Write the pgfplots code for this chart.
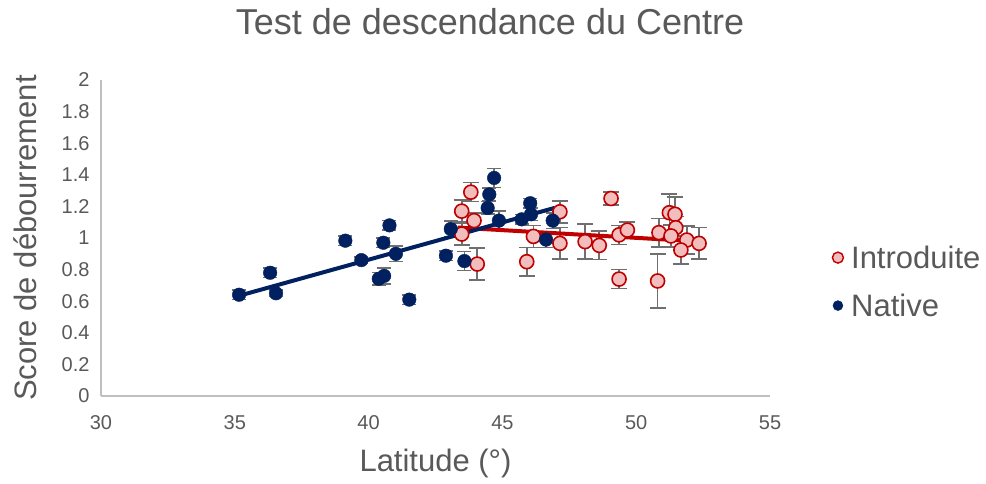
\documentclass[border=0pt]{standalone}
\usepackage{fontspec}
\setmainfont{Liberation Sans}
\usepackage{pgfplots}
\usepackage{pgfplotstable}
\pgfplotsset{compat=1.18}
\definecolor{txt}{HTML}{595959}
\definecolor{axgray}{HTML}{BFBFBF}
\definecolor{nblue}{HTML}{002060}
\definecolor{ired}{HTML}{C00000}
\definecolor{ifill}{HTML}{F2BDBD}
\definecolor{errg}{HTML}{6F6F6F}
\pgfplotstableread{
x y e
35.16 0.641 0.03
36.32 0.78 0.03
36.54 0.65 0.02
39.13 0.983 0.03
39.73 0.86 0.02
40.38 0.742 0.04
40.58 0.76 0.05
40.55 0.97 0.03
40.78 1.08 0.03
41.02 0.90 0.05
41.52 0.61 0.03
42.89 0.888 0.03
43.07 1.057 0.05
43.58 0.854 0.06
44.45 1.19 0.04
44.51 1.276 0.04
44.69 1.38 0.06
44.87 1.11 0.06
45.72 1.118 0.03
46.04 1.22 0.03
46.07 1.15 0.04
46.63 0.99 0.05
46.88 1.11 0.05
}\native
\pgfplotstableread{
x y e
43.82 1.29 0.06
43.48 1.17 0.07
43.94 1.11 0.05
43.48 1.025 0.07
44.06 0.835 0.10
45.91 0.85 0.09
46.16 1.01 0.07
47.15 1.166 0.07
47.15 0.966 0.10
48.09 0.977 0.11
48.62 0.953 0.09
49.06 1.25 0.04
49.36 1.02 0.06
49.67 1.05 0.05
49.36 0.74 0.06
50.80 0.728 0.17
50.85 1.034 0.09
51.24 1.16 0.12
51.45 1.15 0.11
51.48 1.065 0.07
51.30 1.013 0.07
51.89 0.987 0.09
51.67 0.924 0.09
52.35 0.966 0.10
}\intro
\begin{document}
\begin{tikzpicture}[x=1pt,y=1pt]
\useasboundingbox (-101,-88) rectangle (885,396);
\begin{axis}[
  at={(0,0)}, anchor=south west,
  scale only axis, width=669pt, height=316pt,
  xmin=30, xmax=55, ymin=0, ymax=2,
  xtick={30,35,...,55}, ytick={0,0.2,...,2.01},
  /pgf/number format/fixed, /pgf/number format/precision=1,
  /pgf/number format/assume math mode=true,
  axis x line*=bottom, axis y line*=left,
  axis line style={axgray, line width=1.5pt},
  major tick length=0pt,
  tick label style={font=\fontsize{20}{22}\selectfont, text=txt},
  yticklabel style={xshift=-8pt},
  xticklabel style={yshift=-16pt},
  xlabel={Latitude (°)}, ylabel={Score de débourrement},
  label style={font=\fontsize{31}{34}\selectfont, text=txt},
  xlabel style={at={(axis description cs:0.5,-0.215)}, anchor=center},
  ylabel style={at={(axis description cs:-0.1136,0.5)}, anchor=center, rotate=0},
  title={Test de descendance du Centre},
  title style={at={(axis description cs:0.5815,1.1646)}, anchor=center, font=\fontsize{36}{40}\selectfont, text=txt},
  clip=false,
  legend style={draw=none, fill=none, at={(axis description cs:1.0875,0.362)}, anchor=west,
    font=\fontsize{31}{34}\selectfont, text=txt, row sep=20pt,
    cells={anchor=west}},
  legend cell align=left,
]
\addplot[only marks, mark=*, mark size=7pt, mark options={draw=ired, fill=ifill, line width=1.6pt},
  legend image code/.code={\draw[draw=ired, fill=ifill, line width=1.4pt] (0pt,0pt) circle (5.5pt);},
  error bars/.cd, y dir=both, y explicit,
  error bar style={errg, line width=1.6pt},
  error mark options={rotate=90, mark size=8pt, errg, line width=1.6pt}]
  table[x=x, y=y, y error=e] {\intro};
\addlegendentry{\hspace{5pt}Introduite}
\addplot[only marks, mark=*, mark size=6.8pt, mark options={draw=nblue, fill=nblue},
  legend image code/.code={\fill[nblue] (0pt,0pt) circle (5pt);},
  error bars/.cd, y dir=both, y explicit,
  error bar style={errg, line width=1.6pt},
  error mark options={rotate=90, mark size=7pt, errg, line width=1.6pt}]
  table[x=x, y=y, y error=e] {\native};
\addlegendentry{\hspace{5pt}Native}
\addplot[ired, line width=4pt, forget plot] coordinates {(43.33,1.066) (52.35,0.978)};
\addplot[nblue, line width=4pt, forget plot] coordinates {(35.15,0.634) (46.94,1.19)};
\end{axis}
\end{tikzpicture}
\end{document}
